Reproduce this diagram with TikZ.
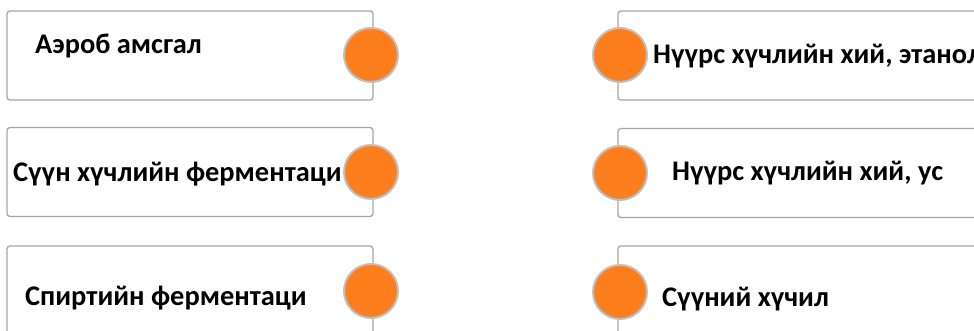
\documentclass[tikz,border=0pt]{standalone}
\usepackage{fontspec}
\setmainfont{Carlito}
\definecolor{boxline}{HTML}{A6A6A6}
\definecolor{dotfill}{HTML}{FD7E1C}
\definecolor{dotline}{HTML}{C0C0C0}
\begin{document}
\begin{tikzpicture}[x=1pt,y=1pt,
  card/.style={draw=boxline, line width=1.3pt, rounded corners=3pt, fill=white,
    minimum height=89pt, inner sep=0pt},
  leftcard/.style={card, minimum width=366pt},
  rightcard/.style={card, minimum width=380pt},
  dot/.style={circle, draw=dotline, line width=2pt, fill=dotfill,
    minimum size=54pt, inner sep=0pt},
  label/.style={anchor=west, inner sep=0pt, font=\fontsize{28.4}{32}\selectfont\bfseries}]
\useasboundingbox (0,0) rectangle (974,331);
\clip (0,0) rectangle (974,331);

% left column
\node[leftcard] (l1) at (190,275.5) {};
\node[leftcard] (l2) at (190,159) {};
\node[leftcard] (l3) at (190,40.5) {};
\node[label] (tl1) at (35,285) {Аэроб амсгал};
\node[label] (tl2) at (13,157) {Сүүн хүчлийн ферментаци};
\node[label] (tl3) at (25,33) {Спиртийн ферментаци};
\node[dot] (cl1) at (371,276) {};
\node[dot] (cl2) at (371,159) {};
\node[dot] (cl3) at (371,40) {};

% right column
\node[rightcard] (r1) at (808,275.5) {};
\node[rightcard] (r2) at (808,158) {};
\node[rightcard] (r3) at (808,40.5) {};
\node[label] (tr1) at (653,275) {Нүүрс хүчлийн хий, этанол};
\node[label] (tr2) at (672,158) {Нүүрс хүчлийн хий, ус};
\node[label] (tr3) at (662,32) {Сүүний хүчил};
\node[dot] (cr1) at (620,276) {};
\node[dot] (cr2) at (620,158) {};
\node[dot] (cr3) at (620,39) {};
\end{tikzpicture}
\end{document}
